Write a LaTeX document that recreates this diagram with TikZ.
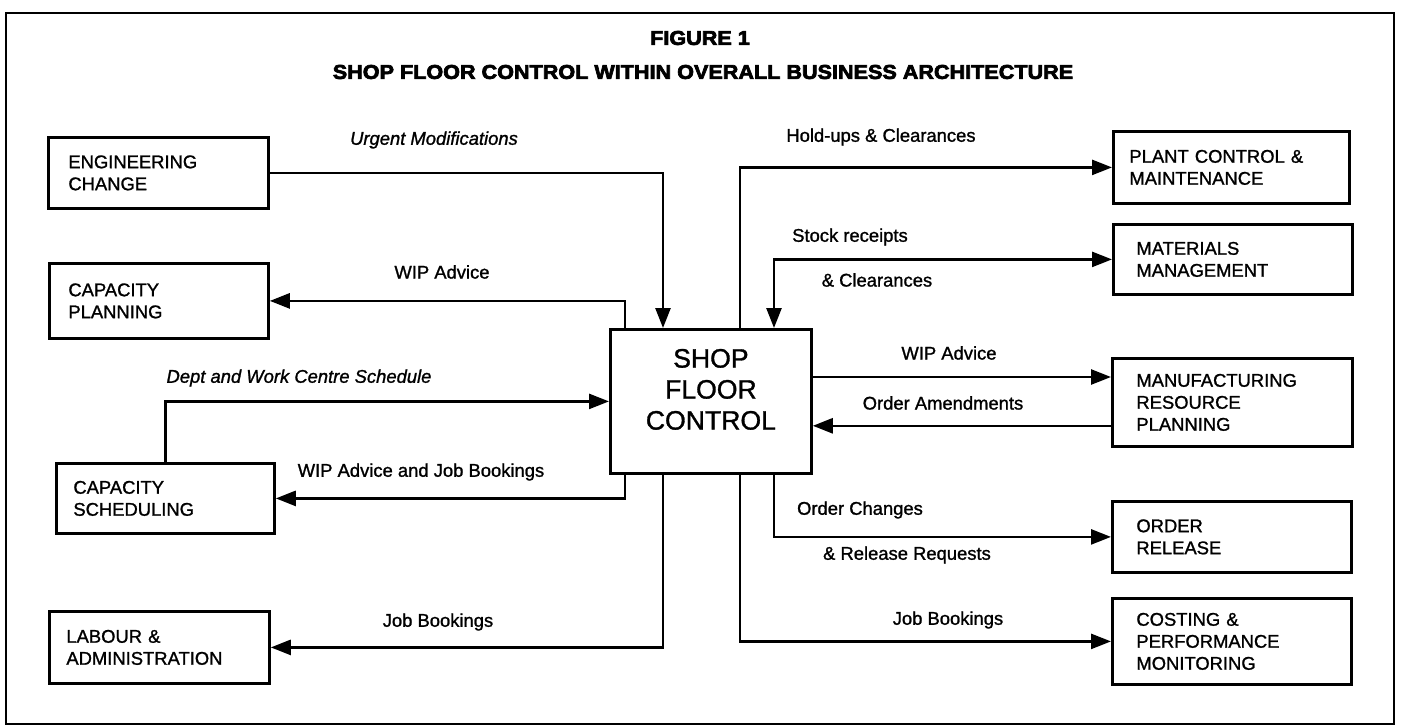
\documentclass[tikz,border=0pt]{standalone}
\usepackage{fontspec}
\setmainfont{Liberation Sans}[FakeBold=1.2]
\newfontfamily\heavyfont{Liberation Sans}[FakeStretch=1.08,BoldFeatures={FakeBold=3.5}]
\usetikzlibrary{arrows.meta}
\newcommand\boxfont{\fontsize{18.4}{22}\selectfont}
\newcommand\flowfont{\fontsize{18.4}{22}\selectfont}
\newcommand\headfont{\heavyfont\bfseries\fontsize{20}{24}\selectfont}

\begin{document}
\begin{tikzpicture}[x=1pt,y=-1pt,
  block/.style={draw,line width=2.8pt,anchor=north west,align=left,inner ysep=0pt,font=\boxfont},
  flow/.style={line width=2.6pt,-{Triangle[length=20pt,width=15pt]}},
  both/.style={line width=2.6pt,{Triangle[length=20pt,width=15pt]}-{Triangle[length=20pt,width=15pt]}},
  lbl/.style={font=\flowfont,inner sep=0pt},
  ilbl/.style={font=\flowfont\itshape,inner sep=0pt},
]
\useasboundingbox (0,0) rectangle (1401,728);
\draw[line width=2pt] (6,13) rectangle (1394,724);

% headings
\node[font=\headfont] (figno) at (700,38) {FIGURE 1};
\node[font=\headfont] (figtitle) at (703,72) {SHOP FLOOR CONTROL WITHIN OVERALL BUSINESS ARCHITECTURE};

% left column
\node[block,minimum width=220,minimum height=71,text width=180,inner xsep=20] (eng) at (47,136) {ENGINEERING\\CHANGE};
\node[block,minimum width=219,minimum height=75,text width=181,inner xsep=19] (cplan) at (48,262) {CAPACITY\\PLANNING};
\node[block,minimum width=218,minimum height=70,text width=184,inner xsep=17] (csched) at (55,462) {CAPACITY\\SCHEDULING};
\node[block,minimum width=220,minimum height=72,text width=186,inner xsep=17] (labour) at (48,610) {LABOUR \&\\ADMINISTRATION};

% centre
\node[block,minimum width=201,minimum height=144,inner xsep=0pt] (shop) at (609,328) {};
\node[font=\fontsize{26.6}{31}\selectfont,align=center,inner sep=0pt] (shoptext) at ([yshift=12pt]shop.center) {SHOP\\FLOOR\\CONTROL};

% right column
\node[block,minimum width=236,minimum height=72,text width=204,inner xsep=16] (plant) at (1112,130) {PLANT CONTROL \&\\MAINTENANCE};
\node[block,minimum width=239,minimum height=70,text width=193,inner xsep=23] (mat) at (1112,223) {MATERIALS\\MANAGEMENT};
\node[block,minimum width=240,minimum height=88,text width=192,inner xsep=24] (mrp) at (1111,357) {MANUFACTURING\\RESOURCE\\PLANNING};
\node[block,minimum width=239,minimum height=71,text width=191,inner xsep=24] (orel) at (1111,500) {ORDER\\RELEASE};
\node[block,minimum width=239,minimum height=86,text width=191,inner xsep=24] (cost) at (1111,597) {COSTING \&\\PERFORMANCE\\MONITORING};

% tapping points on the centre box
\coordinate (sn1) at ([xshift=16pt]shop.north west);
\coordinate (sn2) at ([xshift=54pt]shop.north west);
\coordinate (sn3) at ([xshift=131pt]shop.north west);
\coordinate (sn4) at ([xshift=165pt]shop.north west);
\coordinate (ss1) at ([xshift=16pt]shop.south west);
\coordinate (ss2) at ([xshift=54pt]shop.south west);
\coordinate (ss3) at ([xshift=131pt]shop.south west);
\coordinate (ss4) at ([xshift=165pt]shop.south west);
\coordinate (mrpIn) at ([yshift=-20pt]mrp.north west);
\coordinate (mrpOut) at ([yshift=22pt]mrp.south west);

% connectors
\draw[flow] (eng.east) -| (sn2);
\draw[flow] (sn1) |- (cplan.east);
\draw[flow] (csched.north) |- (shop.west);
\draw[flow] (ss1) |- (csched.east);
\draw[flow] (ss2) |- (labour.east);
\draw[flow] (sn3) |- (plant.west);
\draw[both] (mat.west) -| (sn4);
\draw[flow] (shop.east |- mrpIn) -- (mrpIn);
\draw[flow] (mrpOut) -- (shop.east |- mrpOut);
\draw[flow] (ss4) |- (orel.west);
\draw[flow] (ss3) |- (cost.west);

% connector labels
\node[ilbl] (lurgent) at (434,140) {Urgent Modifications};
\node[lbl] (lwipl) at (442,272) {WIP Advice};
\node[ilbl] (ldept) at (299,378) {Dept and Work Centre Schedule};
\node[lbl] (lwipjb) at (421,472) {WIP Advice and Job Bookings};
\node[lbl] (ljobl) at (438,622) {Job Bookings};
\node[lbl] (lhold) at (881,137) {Hold-ups \& Clearances};
\node[lbl] (lstock) at (850,237) {Stock receipts};
\node[lbl] (lclear) at (877,280) {\& Clearances};
\node[lbl] (lwipr) at (949,353) {WIP Advice};
\node[lbl] (lamend) at (943,403) {Order Amendments};
\node[lbl] (lchg) at (860,510) {Order Changes};
\node[lbl] (lrel) at (907,555) {\& Release Requests};
\node[lbl] (ljobr) at (948,620) {Job Bookings};
\end{tikzpicture}
\end{document}
